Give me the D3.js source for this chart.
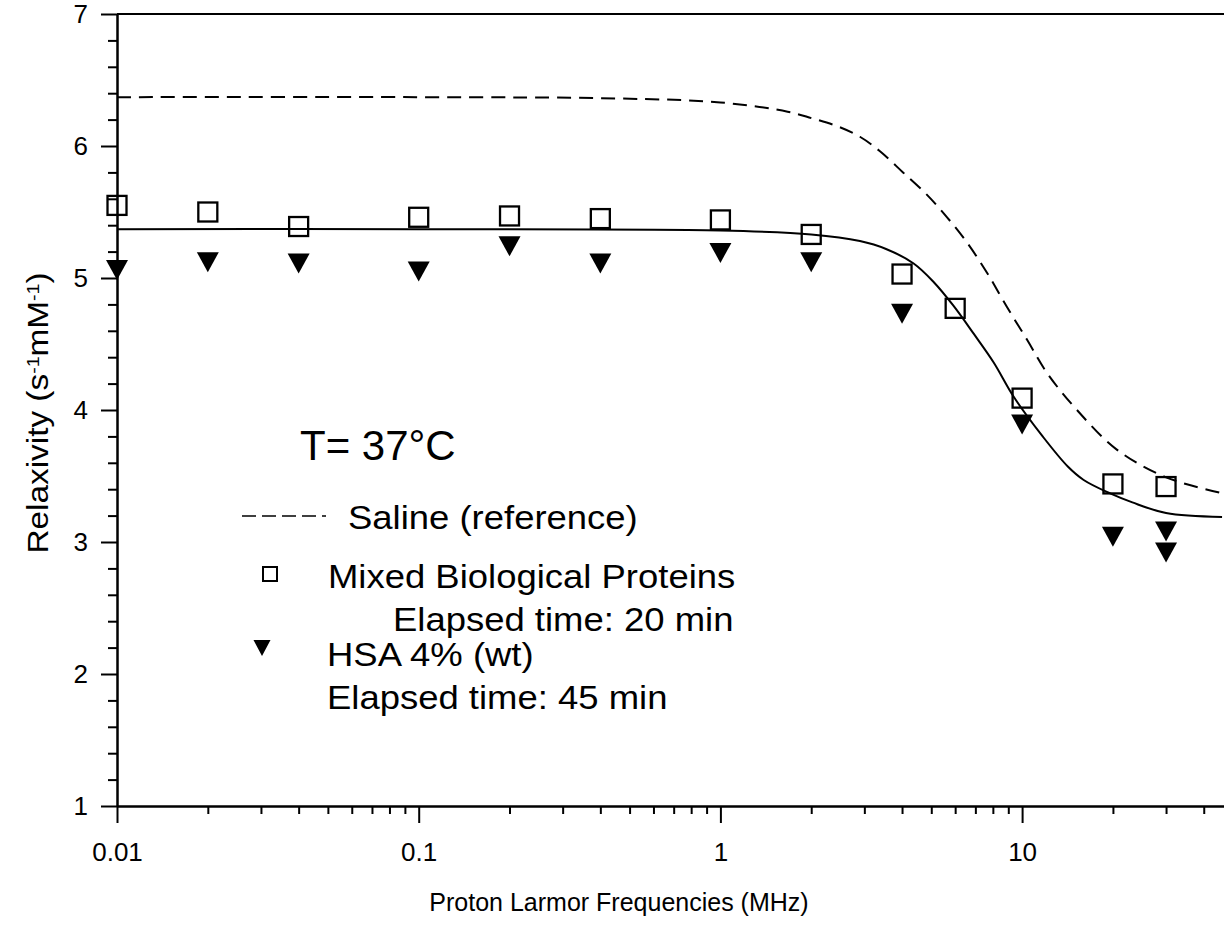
<!DOCTYPE html>
<html>
<head>
<meta charset="utf-8">
<script src="https://cdn.jsdelivr.net/npm/d3@7"></script>
<style>
  body { margin: 0; background: #fff; }
  svg { display: block; font-family: "Liberation Sans", Arial, sans-serif; }
</style>
</head>
<body>
<script>
// frequencies in MHz, relaxivity in s-1 mM-1
var mbpFreq  = [0.01, 0.02, 0.04, 0.1, 0.2, 0.4, 1, 2, 4, 6, 10, 20, 30];
var mbpValue = [5.55, 5.50, 5.39, 5.46, 5.47, 5.45, 5.44, 5.33, 5.03, 4.77, 4.09, 3.44, 3.42];

var hsaFreq  = [0.01, 0.02, 0.04, 0.1, 0.2, 0.4, 1, 2, 4, 10, 20, 30, 30];
var hsaValue = [5.06, 5.12, 5.11, 5.05, 5.24, 5.11, 5.19, 5.12, 4.73, 3.89, 3.04, 3.08, 2.92];

// fitted curves
var fitFreq  = [0.01, 0.1, 1, 2, 2.9, 3.54, 4.37, 5.09, 5.92, 6.9, 8.05, 9.38, 11.7, 14.2, 16, 19.5, 23.2, 30, 46];
var fitValue = [5.37, 5.37, 5.36, 5.33, 5.28, 5.22, 5.11, 4.97, 4.79, 4.58, 4.36, 4.10, 3.80, 3.57, 3.47, 3.37, 3.30, 3.22, 3.19];

var salineFreq  = [0.01, 0.1, 0.46, 1, 1.67, 2.01, 2.44, 2.9, 3.38, 4.03, 4.84, 5.64, 6.56, 7.65, 8.91, 10.4, 12.1, 15.2, 20.6, 30, 46];
var salineValue = [6.37, 6.37, 6.36, 6.33, 6.26, 6.21, 6.15, 6.07, 5.96, 5.80, 5.63, 5.46, 5.27, 5.04, 4.78, 4.53, 4.28, 4.00, 3.70, 3.49, 3.37];

var xMajor = [0.01, 0.1, 1, 10];
var xLabels = ["0.01", "0.1", "1", "10"];
var yMajor = [1, 2, 3, 4, 5, 6, 7];

var width = 1224, height = 931;
var decade = 301.7;

var svg = d3.select("body").append("svg")
  .attr("width", width)
  .attr("height", height);

svg.append("rect").attr("width", width).attr("height", height).attr("fill", "#fff");

var x = d3.scaleLog().domain([0.01, 100]).range([117, 117 + 4 * decade]);
var y = d3.scaleLinear().domain([1, 7]).range([806, 14]);

// minor ticks
var xMinor = [];
[0.01, 0.1, 1, 10].forEach(function(d){
  for (var k = 2; k <= 9; k++) xMinor.push(d * k);
});
var yMinor = d3.range(1, 7.001, 0.2).filter(function(d){ return Math.abs(d - Math.round(d)) > 0.01; });

function styleAxis(g){
  g.selectAll("path").attr("stroke", "#000").attr("stroke-width", 2);
  g.selectAll("line").attr("stroke", "#000").attr("stroke-width", 2);
  g.selectAll("text").attr("fill", "#000").attr("font-size", 26);
}

svg.append("g")
  .attr("transform", "translate(0," + y(1) + ")")
  .call(d3.axisBottom(x).tickValues(xMinor).tickSize(8).tickSizeOuter(0).tickFormat(""))
  .call(styleAxis);

svg.append("g")
  .attr("transform", "translate(0," + y(1) + ")")
  .call(d3.axisBottom(x).tickValues(xMajor).tickSize(17).tickSizeOuter(0).tickPadding(20)
    .tickFormat(function(d, i){ return xLabels[i]; }))
  .call(styleAxis);

svg.append("g")
  .attr("transform", "translate(" + x(0.01) + ",0)")
  .call(d3.axisLeft(y).tickValues(yMinor).tickSize(9).tickSizeOuter(0).tickFormat(""))
  .call(styleAxis);

svg.append("g")
  .attr("transform", "translate(" + x(0.01) + ",0)")
  .call(d3.axisLeft(y).tickValues(yMajor).tickSize(16).tickSizeOuter(0).tickPadding(13).tickFormat(d3.format("d")))
  .call(styleAxis);

// top frame line
svg.append("line")
  .attr("x1", x(0.01)).attr("x2", width)
  .attr("y1", y(7)).attr("y2", y(7))
  .attr("stroke", "#000").attr("stroke-width", 2);

// curves
var line = d3.line()
  .x(function(d){ return x(d[0]); })
  .y(function(d){ return y(d[1]); })
  .curve(d3.curveCatmullRom.alpha(0.5));

svg.append("path")
  .datum(d3.zip(salineFreq, salineValue))
  .attr("d", line)
  .attr("fill", "none").attr("stroke", "#000").attr("stroke-width", 2)
  .attr("stroke-dasharray", "14,8");

svg.append("path")
  .datum(d3.zip(fitFreq, fitValue))
  .attr("d", line)
  .attr("fill", "none").attr("stroke", "#000").attr("stroke-width", 2);

// markers
var sq = 19;
svg.selectAll(".mbp").data(d3.zip(mbpFreq, mbpValue)).enter().append("rect")
  .attr("class", "mbp")
  .attr("x", function(d){ return x(d[0]) - sq / 2; })
  .attr("y", function(d){ return y(d[1]) - sq / 2; })
  .attr("width", sq).attr("height", sq)
  .attr("fill", "none").attr("stroke", "#000").attr("stroke-width", 2.3);

function triPath(w, h){
  return "M" + (-w / 2) + "," + (-h / 2) + "L" + (w / 2) + "," + (-h / 2) + "L0," + (h / 2) + "Z";
}

svg.selectAll(".hsa").data(d3.zip(hsaFreq, hsaValue)).enter().append("path")
  .attr("class", "hsa")
  .attr("d", triPath(22, 20))
  .attr("transform", function(d){ return "translate(" + x(d[0]) + "," + y(d[1]) + ")"; })
  .attr("fill", "#000");

// axis titles
svg.append("text")
  .attr("x", 619).attr("y", 911)
  .attr("text-anchor", "middle")
  .attr("font-size", 25)
  .text("Proton Larmor Frequencies (MHz)");

var yt = svg.append("text")
  .attr("transform", "translate(48,413) rotate(-90) scale(1.15,1)")
  .attr("text-anchor", "middle")
  .attr("font-size", 29);
yt.append("tspan").text("Relaxivity (s");
yt.append("tspan").attr("font-size", 17).attr("baseline-shift", "super").text("-1");
yt.append("tspan").text("mM");
yt.append("tspan").attr("font-size", 17).attr("baseline-shift", "super").text("-1");
yt.append("tspan").text(")");

// legend
svg.append("text")
  .attr("x", 300).attr("y", 460)
  .attr("font-size", 42)
  .text("T= 37°C");

function legendText(tx, ty, s){
  svg.append("text")
    .attr("transform", "translate(" + tx + "," + ty + ") scale(1.105,1)")
    .attr("font-size", 33)
    .text(s);
}

svg.append("line")
  .attr("x1", 242).attr("x2", 326).attr("y1", 516).attr("y2", 516)
  .attr("stroke", "#000").attr("stroke-width", 1.5).attr("stroke-dasharray", "14,6");
legendText(348, 529, "Saline (reference)");

svg.append("rect")
  .attr("x", 263).attr("y", 567).attr("width", 14).attr("height", 14)
  .attr("fill", "none").attr("stroke", "#000").attr("stroke-width", 2);
legendText(328, 588, "Mixed Biological Proteins");
legendText(393, 631, "Elapsed time: 20 min");

svg.append("path")
  .attr("d", triPath(17, 16))
  .attr("transform", "translate(262,648)")
  .attr("fill", "#000");
legendText(327, 666, "HSA 4% (wt)");
legendText(327, 709, "Elapsed time: 45 min");
</script>
</body>
</html>
